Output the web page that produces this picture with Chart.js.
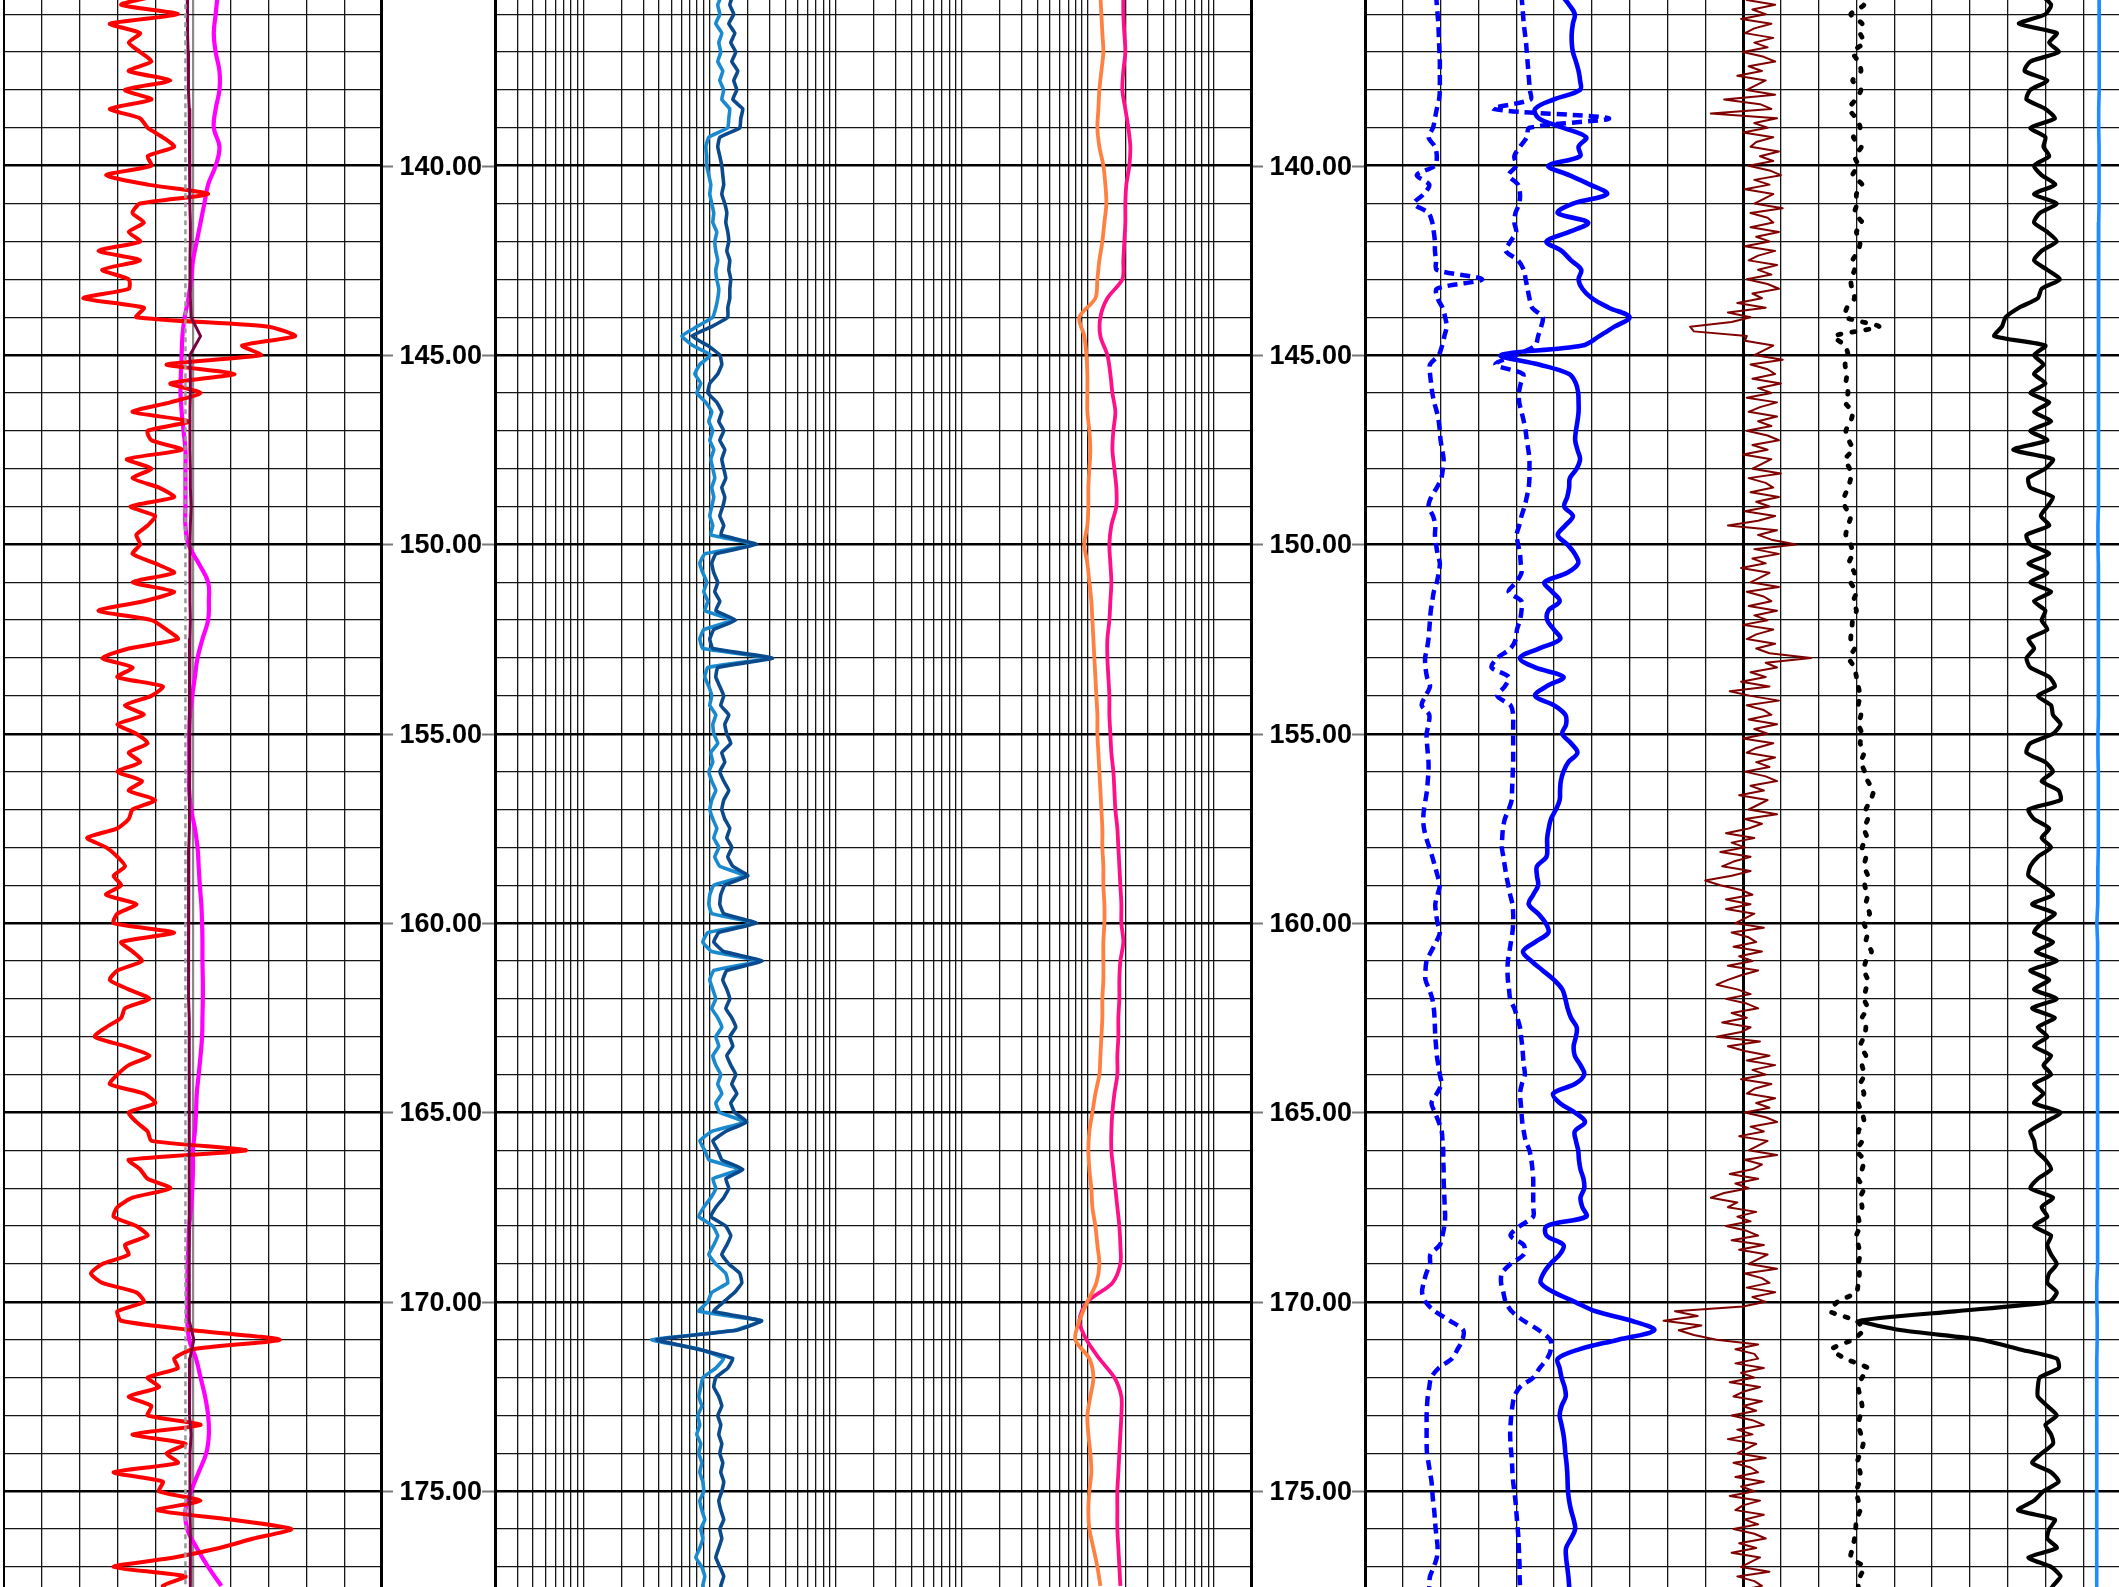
<!DOCTYPE html>
<html lang="en">
<head>
  <meta charset="UTF-8">
  <title>Well log</title>
  <script src="https://cdn.jsdelivr.net/npm/chart.js"></script>
  <style>
    html, body { margin: 0; padding: 0; background: #fff; }
    body { width: 2119px; height: 1587px; overflow: hidden; position: relative; }
    canvas { position: absolute; top: 0; }
    .edge { position: absolute; top: 0; height: 1587px; background: #000; }
  </style>
</head>
<body>
  <canvas id="track1" width="378" height="1587" style="left:4px"></canvas>
  <canvas id="depth1" width="113" height="1587" style="left:382px"></canvas>
  <canvas id="track2" width="757" height="1587" style="left:495px"></canvas>
  <canvas id="depth2" width="113" height="1587" style="left:1252px"></canvas>
  <canvas id="track3" width="756" height="1587" style="left:1365px"></canvas>
  <div class="edge" style="left:3px;width:2px"></div>
  <div class="edge" style="left:380px;width:3px"></div>
  <div class="edge" style="left:494px;width:3px"></div>
  <div class="edge" style="left:1250px;width:3px"></div>
  <div class="edge" style="left:1364px;width:3px"></div>

  <script>
    // depth window and labels
    const DEPTH_TOP = 135.625;
    const DEPTH_BOTTOM = 177.53;
    const SAMPLE_START = 135.5;
    const depthLabels = [140, 145, 150, 155, 160, 165, 170, 175];

    // ---- track 1 (linear, 10 divisions), quarter/half step samples from 135.5
    const redCurve = [
      4.1, 3.1,
      4.6, 2.8, 3.6, 3.3,
      3.6, 3.9, 3.3, 4.4,
      3.2, 3.9, 2.8, 3.6,
      3.8, 4.2, 4.5, 3.8,
      3.9, 2.7, 3.8, 5.4,
      3.6, 3.4, 3.7, 3.3,
      3.6, 2.5, 3.6, 2.6,
      3.3, 3.3, 2.1, 3.7,
      3.5, 7.0, 7.7, 6.3,
      6.8, 4.3, 6.1, 4.4,
      5.2, 4.4, 3.4, 4.9,
      3.8, 3.9, 4.7, 3.25,
      3.9, 3.4, 4.1, 4.5,
      3.35, 4.0, 3.8, 3.5,
      3.6, 3.4, 4.0, 4.5,
      3.4, 4.5, 3.7, 2.5,
      3.9, 4.3, 4.6, 3.3,
      2.6, 3.4, 3.0, 4.2,
      3.9, 3.2, 3.7, 3.0,
      3.5, 3.8, 3.3, 3.6,
      3.0, 3.65, 3.3, 4.0,
      3.4, 3.3, 3.0, 2.2,
      2.7, 3.0, 3.2, 2.9,
      3.1, 2.7, 3.5, 3.0,
      2.9, 4.5, 3.1, 3.4,
      3.65, 3.0, 2.8, 3.3,
      3.85, 3.2, 3.1, 2.7,
      2.4, 3.2, 3.85, 3.3,
      3.0, 2.8, 3.7, 4.0,
      3.3, 3.5, 3.8, 3.9,
      6.4, 3.3, 3.6, 3.8,
      4.4, 3.4, 3.0, 2.9,
      3.5, 3.8, 3.2, 3.3,
      2.6, 2.3, 2.6, 3.5,
      3.7, 3.0, 3.1, 5.0,
      7.3, 5.0, 4.5, 4.6,
      3.8, 4.1, 3.3, 3.9,
      3.8, 5.2, 3.4, 4.8,
      4.3, 4.6, 2.9, 4.2,
      4.1, 5.2, 4.05, 6.0,
      7.6, 6.6, 5.7, 4.5,
      2.9, 4.8, 4.2, 4.5
    ];
    const magentaCurve = [
      5.65,
      5.6, 5.55, 5.6, 5.7, 5.7, 5.6, 5.55, 5.7, 5.6, 5.4,
      5.3, 5.2, 5.1, 5.0, 4.95, 4.88, 4.78, 4.72, 4.7, 4.68,
      4.67, 4.7, 4.75, 4.8, 4.8, 4.8, 4.8, 4.8, 4.88, 5.15,
      5.4, 5.42, 5.4, 5.25, 5.12, 5.05, 4.98, 4.92, 4.9, 4.9,
      4.9, 4.9, 4.95, 5.05, 5.12, 5.15, 5.18, 5.22, 5.24, 5.25,
      5.25, 5.26, 5.26, 5.25, 5.24, 5.2, 5.15, 5.1, 5.08, 5.05,
      5.0, 5.0, 4.98, 4.95, 4.9, 4.88, 4.86, 4.85, 4.85, 4.85,
      4.9, 5.08, 5.2, 5.32, 5.4, 5.42, 5.35, 5.15, 4.95, 4.8,
      4.85, 5.1, 5.4, 5.75
    ];
    const maroonCurve = [
      4.85,
      4.85, 4.86, 4.87, 4.88, 4.88, 4.9, 4.9, 4.92, 4.92, 4.92,
      4.92, 4.93, 4.93, 4.92, 4.92, 4.93, 4.95, 5.2, 4.92, 4.93,
      4.93, 4.92, 4.92, 4.92, 4.93, 4.93, 4.95, 4.93, 4.92, 4.92,
      4.92, 4.92, 4.93, 4.92, 4.92, 4.91, 4.91, 4.91, 4.9, 4.9,
      4.9, 4.9, 4.9, 4.9, 4.89, 4.88, 4.88, 4.88, 4.88, 4.88,
      4.88, 4.89, 4.89, 4.9, 4.9, 4.9, 4.9, 4.9, 4.9, 4.9,
      4.9, 4.9, 4.9, 4.9, 4.9, 4.9, 4.9, 4.9, 4.9, 4.92,
      5.02, 4.92, 4.9, 4.9, 4.92, 4.95, 4.92, 4.92, 4.92, 4.92,
      4.93, 4.93, 4.93, 4.93
    ];
    const grayBaseline = [4.8, 4.8];
    const grayBaselineDepth = [135.5, 177.75];

    // ---- track 2 (logarithmic 0.2 - 200000)
    const lightBlueCurve = [
      12.55, 11.66,
      12.1, 11.25, 12.55, 11.88,
      12.32, 11.66, 12.78, 12.1,
      13.0, 12.55, 14.5, 14.26,
      14.0, 9.9, 9.37, 9.54,
      9.54, 9.9, 10.27, 10.08,
      10.45, 10.84, 10.65, 11.45,
      11.04, 11.25, 11.66, 11.25,
      11.45, 11.88, 11.66, 11.25,
      10.65, 7.95, 6.05, 7.39,
      10.27, 8.4, 7.67, 8.55,
      7.95, 9.37, 10.45, 9.9,
      10.65, 10.08, 10.84, 10.27,
      10.65, 11.04, 10.45, 10.84,
      10.45, 10.08, 10.65, 10.27,
      22.8, 9.2, 8.4, 8.87,
      9.54, 9.03, 9.72, 9.2,
      15.3, 9.03, 8.4, 8.87,
      30.0, 9.72, 9.2, 9.9,
      10.45, 10.08, 11.25, 10.65,
      10.84, 11.66, 10.27, 10.65,
      9.9, 10.45, 11.25, 10.45,
      10.08, 10.65, 11.45, 10.84,
      11.88, 11.04, 12.1, 19.1,
      10.84, 10.08, 9.9, 10.45,
      22.8, 9.72, 8.87, 10.45,
      25.0, 10.84, 10.08, 10.65,
      11.25, 10.45, 11.66, 12.55,
      11.25, 11.88, 10.65, 11.25,
      12.32, 11.66, 12.55, 11.25,
      12.1, 19.1, 10.45, 8.4,
      9.2, 9.9, 17.4, 10.65,
      11.25, 10.27, 9.03, 8.25,
      10.65, 11.66, 10.84, 9.9,
      11.25, 13.5, 14.0, 10.45,
      9.72, 8.25, 25.9, 15.9,
      3.5, 8.4, 13.0, 11.25,
      8.87, 8.55, 8.25, 8.71,
      8.1, 8.4, 7.95, 8.55,
      8.25, 8.71, 8.4, 8.87,
      9.03, 8.4, 8.71, 9.2,
      8.55, 8.87, 8.4, 7.81,
      8.71, 9.2, 8.87, 9.37
    ];
    const darkBlueCurve = [
      15.34, 14.52,
      15.62, 14.26, 15.91, 14.79,
      16.2, 15.06, 16.8, 15.62,
      16.5, 15.34, 18.41, 17.75,
      17.43, 12.1, 11.66, 12.1,
      12.55, 12.78, 13.0, 12.55,
      13.25, 13.75, 13.5, 14.0,
      14.26, 13.75, 14.52, 14.26,
      14.79, 14.52, 14.52, 14.0,
      14.0, 10.45, 7.26, 9.72,
      12.1, 12.55, 11.66, 10.08,
      9.72, 11.45, 12.55, 11.88,
      13.0, 12.1, 13.25, 12.55,
      13.0, 13.5, 12.55, 13.25,
      12.78, 12.1, 13.0, 12.32,
      23.7, 11.25, 10.45, 10.84,
      11.66, 11.04, 12.1, 11.25,
      16.2, 10.84, 10.08, 10.65,
      31.7, 11.66, 11.25, 12.1,
      13.0, 12.32, 14.26, 13.25,
      13.75, 14.79, 12.55, 13.25,
      12.1, 13.0, 14.26, 13.0,
      12.55, 13.25, 14.52, 13.75,
      15.06, 14.0, 15.34, 20.2,
      13.25, 12.32, 12.1, 13.0,
      23.7, 11.88, 10.84, 13.0,
      26.4, 13.75, 12.78, 13.75,
      14.52, 13.5, 15.06, 16.2,
      14.52, 15.34, 13.75, 14.79,
      16.2, 15.06, 16.5, 14.79,
      15.91, 19.8, 13.5, 10.65,
      11.66, 12.55, 18.41, 13.5,
      14.26, 13.0, 11.25, 10.27,
      13.5, 14.79, 13.75, 12.55,
      14.26, 17.43, 18.08, 15.91,
      13.0, 10.84, 25.9, 16.5,
      3.84, 8.1, 15.34, 14.0,
      11.25, 10.84, 11.88, 12.55,
      11.66, 12.32, 11.88, 12.55,
      12.1, 12.78, 12.32, 13.0,
      12.55, 11.88, 12.32, 13.0,
      12.1, 12.55, 11.88, 11.25,
      12.1, 13.0, 12.32, 13.0
    ];
    const orangeCurve = [
      12570,
      12800, 13030, 13270, 12800, 12340, 12120, 11900, 12340, 13270, 13770,
      14020, 13520, 13030, 12340, 11900, 11470, 8570, 9380, 9740, 9910,
      9910, 9910, 10280, 10470, 10280, 10090, 10090, 9910, 9380, 9910,
      10280, 10660, 10860, 11060, 11260, 11470, 11680, 11900, 11900, 12120,
      12340, 12570, 12800, 13030, 13030, 13270, 13270, 13520, 13520, 13270,
      13270, 13270, 13030, 13030, 12800, 12570, 12340, 11470, 10860, 10280,
      10090, 10280, 10660, 10860, 11470, 11900, 12340, 11680, 9910, 8570,
      7960, 10280, 11060, 10470, 9910, 10090, 10470, 10660, 10280, 10090,
      10280, 11060, 11900, 12570
    ];
    const pinkCurve = [
      19110,
      19110, 19460, 19820, 19110, 18770, 19820, 20940, 21710, 21320, 20190,
      19820, 19820, 19460, 19110, 18770, 14280, 12570, 12570, 14280, 15080,
      15650, 16520, 15930, 15650, 16230, 16820, 16820, 15360, 14810, 15080,
      15360, 15080, 14810, 14280, 14280, 14540, 14810, 14810, 15080, 15360,
      15930, 16230, 16520, 17130, 17450, 17770, 18100, 18430, 18430, 19110,
      18100, 17770, 17770, 17450, 17450, 17130, 17130, 16230, 15650, 15360,
      15360, 15930, 16520, 17130, 17770, 18100, 18100, 15650, 9910, 8570,
      9740, 12340, 16230, 18430, 18430, 18100, 17770, 17450, 17130, 17130,
      17130, 17450, 17770, 18100
    ];

    // ---- track 3 (linear, 20 divisions)
    const blueDashLeft = [
      1.88, 1.9,
      1.92, 1.94, 1.95, 1.96,
      1.97, 1.98, 1.98, 1.98,
      1.98, 1.96, 1.9, 1.85,
      1.8, 1.68, 1.85, 1.9,
      1.85, 1.37, 1.7, 1.55,
      1.3, 1.68, 1.78, 1.82,
      1.85, 1.85, 1.88, 1.9,
      3.1, 1.9, 1.92, 2.05,
      2.12, 2.16, 2.1, 2.04,
      1.95, 1.72, 1.72, 1.75,
      1.78, 1.83, 1.9, 1.95,
      1.98, 2.0, 2.04, 2.08,
      2.06, 2.02, 1.9, 1.75,
      1.68, 1.8, 1.86, 1.85,
      1.88, 1.92, 1.98, 1.95,
      1.9, 1.82, 1.78, 1.74,
      1.72, 1.7, 1.68, 1.64,
      1.59, 1.6, 1.64, 1.72,
      1.6, 1.5, 1.7, 1.68,
      1.63, 1.64, 1.66, 1.68,
      1.68, 1.66, 1.64, 1.6,
      1.56, 1.54, 1.56, 1.62,
      1.7, 1.78, 1.85, 1.92,
      1.98, 1.92, 1.86, 1.88,
      1.92, 1.98, 1.88, 1.75,
      1.63, 1.6, 1.6, 1.7,
      1.78, 1.82, 1.84, 1.85,
      1.86, 1.88, 1.9, 1.94,
      1.98, 2.02, 1.9, 1.76,
      1.85, 1.95, 2.03, 2.05,
      2.07, 2.07, 2.08, 2.08,
      2.09, 2.1, 2.11, 2.12,
      2.1, 2.05, 1.98, 1.73,
      1.72, 1.62, 1.55, 1.51,
      1.6, 1.85, 2.25, 2.6,
      2.58, 2.45, 2.3, 1.95,
      1.75, 1.7, 1.66, 1.64,
      1.63, 1.63, 1.63, 1.63,
      1.64, 1.68, 1.72, 1.76,
      1.78, 1.8, 1.83, 1.85,
      1.87, 1.9, 1.92, 1.9,
      1.82, 1.72, 1.7, 1.7
    ];
    const blueDashMid = [
      4.14, 4.16,
      4.18, 4.2, 4.23, 4.26,
      4.28, 4.3, 4.32, 4.34,
      4.36, 4.38, 3.4, 6.45,
      4.35, 4.28, 4.1, 3.95,
      4.0, 3.8, 4.05, 4.1,
      4.08, 3.98, 3.95, 4.0,
      3.85, 3.72, 4.05, 4.2,
      4.25, 4.3, 4.35, 4.42,
      4.7, 4.66, 4.58, 4.5,
      4.0, 3.45, 4.18, 4.12,
      4.07, 4.08, 4.14, 4.2,
      4.25, 4.28, 4.32, 4.35,
      4.35, 4.35, 4.33, 4.28,
      4.22, 4.14, 4.08, 4.01,
      4.05, 4.1, 4.12, 4.14,
      4.0, 3.8, 4.14, 4.14,
      4.1, 4.02, 3.99, 3.85,
      3.5, 3.35, 3.8, 3.7,
      3.5, 3.85, 3.92, 3.92,
      3.92, 3.92, 3.92, 3.92,
      3.91, 3.9, 3.89, 3.88,
      3.8, 3.7, 3.65, 3.63,
      3.62, 3.66, 3.7, 3.74,
      3.79, 3.84, 3.9, 3.92,
      3.92, 3.9, 3.86, 3.82,
      3.78, 3.77, 3.78, 3.81,
      3.84, 3.95, 4.03, 4.1,
      4.13, 4.16, 4.18, 4.2,
      4.23, 4.15, 4.1, 4.12,
      4.14, 4.16, 4.2, 4.25,
      4.35, 4.4, 4.43, 4.45,
      4.45, 4.45, 4.45, 4.45,
      4.1, 3.85, 4.2, 4.2,
      3.85, 3.62, 3.6, 3.66,
      3.72, 3.88, 4.2, 4.6,
      4.9, 4.92, 4.82, 4.62,
      4.45, 4.1, 3.95, 3.9,
      3.87, 3.85, 3.84, 3.85,
      3.87, 3.89, 3.9, 3.92,
      3.95, 3.98, 4.0, 4.02,
      4.04, 4.06, 4.07, 4.08,
      4.09, 4.09, 4.1, 4.1
    ];
    const blueSolid = [
      5.2, 5.4,
      5.55, 5.5, 5.47, 5.47,
      5.5, 5.58, 5.65, 5.69,
      5.69, 5.0, 4.5, 4.6,
      5.25, 5.85, 5.65, 5.69,
      4.85, 5.4, 5.95, 6.4,
      5.5, 5.1, 5.9, 5.4,
      4.8, 5.2, 5.45, 5.72,
      5.65, 5.75, 6.0, 6.45,
      7.0, 6.6, 6.2, 5.75,
      3.6, 4.6, 5.4, 5.58,
      5.64, 5.65, 5.65, 5.62,
      5.58, 5.56, 5.62, 5.69,
      5.6, 5.42, 5.4, 5.35,
      5.27, 5.5, 5.3, 5.1,
      5.35, 5.55, 5.64, 5.35,
      4.75, 4.95, 5.15, 4.85,
      4.82, 5.0, 5.16, 4.6,
      4.1, 4.5, 5.25, 4.8,
      4.5, 5.0, 5.3, 5.32,
      5.22, 5.45, 5.62, 5.38,
      5.25, 5.18, 5.16, 5.15,
      5.05, 4.92, 4.86, 4.82,
      4.82, 4.8, 4.55, 4.55,
      4.58, 4.45, 4.33, 4.58,
      4.78, 4.85, 4.5, 4.18,
      4.4, 4.7, 5.0, 5.22,
      5.3, 5.36, 5.45, 5.6,
      5.58, 5.52, 5.55, 5.7,
      5.8, 5.55, 4.98, 5.15,
      5.55, 5.82, 5.55, 5.58,
      5.64, 5.66, 5.7, 5.78,
      5.8, 5.7, 5.75, 5.85,
      4.81, 4.8, 5.25, 5.15,
      4.9, 4.72, 4.65, 5.0,
      5.55, 6.1, 7.05, 7.65,
      6.7, 5.68, 5.1, 5.15,
      5.2, 5.28, 5.31, 5.2,
      5.15, 5.2, 5.25, 5.28,
      5.3, 5.33, 5.35, 5.36,
      5.37, 5.4, 5.45, 5.52,
      5.56, 5.45, 5.32, 5.32,
      5.35, 5.38, 5.4, 5.42
    ];
    // eighth-step samples from 135.5
    const maroonTrace = [
      10.7, 10.1, 10.85, 10.25, 10.6, 9.95, 10.75, 10.3,
      10.05, 10.8, 10.3, 10.65, 10.0, 10.55, 10.85, 10.15,
      10.5, 9.85, 10.6, 10.35, 10.1, 10.85, 9.5, 10.45,
      10.75, 9.15, 10.9, 10.3, 10.65, 10.0, 10.8, 10.35,
      10.2, 10.95, 10.45, 10.8, 10.15, 10.7, 11.0, 10.3,
      10.7, 10.05, 10.8, 10.55, 10.3, 11.05, 10.2, 10.65,
      10.8, 10.2, 10.95, 10.35, 10.7, 10.05, 10.85, 10.4,
      10.15, 10.9, 10.4, 10.75, 10.1, 10.65, 10.95, 10.25,
      10.5, 9.85, 10.6, 9.6, 10.2, 9.7, 8.6, 8.7,
      10.1, 10.05, 10.8, 10.55, 10.3, 11.05, 10.2, 10.65,
      10.85, 10.25, 11.0, 10.4, 10.75, 10.1, 10.9, 10.45,
      10.15, 10.9, 10.4, 10.75, 10.1, 10.65, 10.95, 10.25,
      10.65, 10.0, 10.75, 10.5, 10.25, 11.0, 10.15, 10.6,
      10.8, 10.2, 10.95, 10.35, 10.7, 10.05, 10.85, 10.4,
      9.6, 10.9, 10.4, 10.75, 11.4, 10.3, 10.95, 10.25,
      10.6, 9.95, 10.7, 10.45, 10.2, 10.95, 10.1, 10.55,
      10.75, 10.15, 10.9, 10.3, 10.65, 10.0, 10.8, 10.35,
      10.1, 10.85, 10.35, 10.7, 11.8, 10.6, 10.9, 10.2,
      10.6, 9.95, 10.7, 9.65, 10.2, 10.95, 10.1, 10.55,
      10.75, 10.15, 10.9, 10.3, 10.65, 10.0, 10.8, 10.35,
      10.1, 10.85, 10.35, 10.7, 10.05, 10.6, 10.9, 10.2,
      10.55, 9.9, 10.65, 10.4, 10.15, 10.9, 10.05, 10.5,
      10.15, 9.55, 10.3, 9.7, 10.05, 9.4, 10.2, 9.75,
      9.45, 10.2, 9.7, 9.0, 9.4, 9.95, 10.25, 9.55,
      10.2, 9.55, 10.3, 10.05, 9.8, 10.55, 9.7, 10.15,
      10.35, 9.75, 10.5, 9.9, 10.25, 9.6, 10.4, 9.95,
      9.6, 9.3, 9.85, 10.2, 9.55, 10.1, 10.4, 9.7,
      10.1, 9.45, 10.2, 9.95, 9.3, 10.45, 9.6, 10.05,
      10.7, 10.1, 10.85, 10.25, 10.6, 9.95, 10.75, 10.3,
      10.1, 10.85, 10.35, 10.7, 10.05, 10.6, 10.9, 10.2,
      10.55, 9.9, 10.65, 10.4, 10.15, 10.9, 10.05, 10.5,
      10.25, 9.65, 10.4, 9.8, 10.15, 9.5, 9.15, 9.85,
      9.6, 10.35, 9.85, 10.2, 9.55, 10.1, 10.4, 9.7,
      10.55, 9.9, 10.65, 10.4, 10.15, 10.9, 10.05, 10.5,
      10.7, 10.1, 10.85, 10.25, 10.6, 10.0, 8.2, 8.8,
      7.9, 8.9, 8.3, 8.7, 9.3, 10.4, 9.8, 10.3,
      10.4, 9.8, 10.55, 9.95, 10.3, 9.65, 10.45, 10.0,
      9.75, 10.5, 10.0, 10.35, 9.7, 10.25, 10.55, 9.85,
      10.25, 9.6, 10.35, 10.1, 9.85, 10.6, 9.75, 10.2,
      10.4, 9.8, 10.55, 9.95, 10.3, 9.65, 10.45, 10.0,
      9.8, 10.55, 10.05, 10.4, 9.75, 10.3, 10.6, 9.9,
      10.35, 9.7, 10.45, 10.2, 9.95, 10.7, 9.85, 10.3,
      10.5, 9.9, 10.65
    ];
    const blackDashed = [
      12.95, 13.2,
      12.85, 13.15, 13.1, 13.2,
      12.9, 13.05, 13.12, 12.9,
      13.12, 12.98, 12.8, 13.0,
      13.1, 12.92, 13.13, 12.95,
      13.05, 12.9, 13.15, 13.0,
      13.02, 12.95, 13.15, 13.0,
      13.1, 13.05, 12.9, 12.95,
      12.85, 12.88, 12.95, 12.75,
      12.7, 13.6, 12.4, 12.7,
      12.78, 12.7, 12.75, 12.72,
      12.78, 12.7, 12.9, 12.85,
      12.72, 12.8, 12.9, 12.7,
      12.82, 12.85, 12.78, 12.68,
      12.7, 12.85, 12.78, 12.72,
      12.85, 12.9, 12.8, 12.95,
      12.85, 13.0, 12.92, 13.0,
      12.9, 12.88, 12.85, 12.95,
      12.8, 12.95, 13.0, 13.05,
      13.1, 13.05, 13.12, 13.05,
      13.15, 13.1, 13.2, 13.12,
      13.22, 13.3, 13.45, 13.38,
      13.25, 13.3, 13.2, 13.28,
      13.15, 13.25, 13.2, 13.3,
      13.22, 13.3, 13.25, 13.35,
      13.2, 13.3, 13.25, 13.4,
      13.25, 13.2, 13.3, 13.25,
      13.2, 13.3, 13.15, 13.25,
      13.2, 13.1, 13.25, 13.15,
      13.22, 13.1, 13.2, 13.05,
      13.15, 13.2, 13.05, 13.15,
      13.0, 13.2, 13.15, 13.05,
      13.2, 13.1, 13.15, 13.05,
      13.1, 13.0, 13.05, 13.1,
      13.05, 13.08, 13.05, 13.0,
      12.5, 12.3, 13.0, 13.18,
      12.9, 12.35, 12.7, 13.3,
      13.15, 13.05, 13.1, 13.15,
      13.1, 13.05, 13.12, 13.18,
      13.1, 13.02, 13.1, 13.08,
      13.0, 13.05, 13.1, 13.0,
      12.98, 12.95, 12.9, 12.85,
      13.2, 13.1, 13.05, 13.1
    ];
    const blackSolid = [
      17.9, 18.15,
      18.0, 17.3, 18.3, 18.1,
      18.35, 17.6, 17.45, 18.05,
      17.6, 17.5, 18.0, 18.25,
      17.6, 18.0, 17.95, 18.1,
      17.7, 17.9, 18.26, 17.7,
      18.3, 17.85, 17.7, 18.05,
      18.3, 17.9, 17.7, 18.05,
      18.38, 17.9, 17.8, 17.3,
      16.95, 16.85, 16.65, 18.0,
      17.7, 17.95, 17.7, 18.0,
      17.6, 18.1, 17.7, 18.15,
      17.6, 18.05, 17.15, 18.2,
      18.0, 17.55, 17.6, 18.2,
      18.05, 17.88, 18.1, 17.5,
      17.6, 18.1, 17.55, 18.05,
      17.6, 18.15, 17.7, 18.0,
      17.9, 18.05, 17.55, 17.7,
      17.5, 17.6, 18.1, 18.25,
      17.8, 18.15, 18.2, 18.4,
      18.2, 17.6, 17.5, 18.0,
      18.2, 17.9, 18.35, 18.4,
      17.55, 17.7, 18.1, 17.9,
      18.15, 17.8, 17.6, 17.55,
      17.9, 18.2, 17.65, 18.25,
      17.9, 17.7, 18.2, 17.75,
      18.3, 17.6, 18.1, 17.7,
      18.3, 17.65, 18.25, 17.8,
      18.05, 17.7, 18.15, 17.95,
      18.15, 17.7, 17.95, 17.7,
      18.4, 18.0, 17.6, 17.7,
      17.75, 18.0, 18.15, 17.8,
      17.6, 18.2, 17.9, 18.05,
      17.7, 18.15, 18.05, 18.15,
      18.3, 18.1, 18.05, 18.3,
      18.1, 15.6, 13.1, 14.2,
      16.3, 17.3, 18.3, 18.35,
      17.85, 17.8, 17.8, 18.05,
      18.3, 18.0, 18.15, 18.2,
      17.9, 17.65, 18.15, 18.35,
      17.95, 17.7, 17.28, 18.25,
      18.1, 18.05, 18.3, 17.55,
      18.15, 18.4, 18.2, 18.05
    ];
    const skyBlueLine = [
      19.42,
      19.42, 19.43, 19.43, 19.42, 19.42, 19.41, 19.41, 19.42, 19.42, 19.42,
      19.42, 19.41, 19.41, 19.41, 19.4, 19.4, 19.4, 19.4, 19.4, 19.41,
      19.41, 19.41, 19.4, 19.4, 19.4, 19.4, 19.4, 19.39, 19.39, 19.4,
      19.4, 19.4, 19.4, 19.41, 19.41, 19.4, 19.4, 19.4, 19.39, 19.39,
      19.4, 19.4, 19.4, 19.4, 19.4, 19.39, 19.39, 19.38, 19.36, 19.38,
      19.39, 19.39, 19.39, 19.39, 19.38, 19.38, 19.38, 19.38, 19.38, 19.38,
      19.38, 19.38, 19.38, 19.38, 19.38, 19.37, 19.37, 19.36, 19.36, 19.37,
      19.37, 19.36, 19.36, 19.36, 19.36, 19.36, 19.36, 19.36, 19.36, 19.36,
      19.36, 19.35, 19.35, 19.35
    ];

    // grid positions
    const depthGrid = [];
    for (let d = 136; d <= 177; d++) depthGrid.push(d);
    const grid10 = [0, 1, 2, 3, 4, 5, 6, 7, 8, 9, 10];
    const grid20 = [];
    for (let i = 0; i <= 20; i++) grid20.push(i);
    const logDecades = [0.1, 1, 10, 100, 1000, 10000, 100000];
    const logMultipliers = [1, 2, 3, 4, 5, 6, 7, 8, 9];
    const logGrid = [];
    logDecades.forEach(dec => logMultipliers.forEach(m => {
      const v = +(dec * m).toPrecision(3);
      if (v >= 0.2 && v <= 200000) logGrid.push(v);
    }));

    const GRID_COLOR = '#161616';
    const GRID_WIDTH = 1.3;

    function curve(values, step) {
      return values.map((v, i) => ({ x: v, y: SAMPLE_START + i * step }));
    }

    function line(data, color, width, opts) {
      opts = opts || {};
      return {
        data: data,
        showLine: true,
        borderColor: color,
        backgroundColor: color,
        borderWidth: width,
        borderDash: opts.dash || [],
        borderCapStyle: opts.cap || 'butt',
        borderJoinStyle: 'round',
        pointRadius: 0,
        tension: opts.tension || 0,
        fill: false
      };
    }

    const baseOptions = {
      animation: false,
      responsive: false,
      maintainAspectRatio: false,
      devicePixelRatio: 1,
      events: [],
      layout: { padding: 0 },
      plugins: { legend: { display: false }, tooltip: { enabled: false } }
    };

    function depthScale() {
      return {
        type: 'linear',
        min: DEPTH_TOP,
        max: DEPTH_BOTTOM,
        reverse: true,
        bounds: 'data',
        afterBuildTicks: s => { s.ticks = depthGrid.map(v => ({ value: v })); },
        ticks: { display: false },
        border: { display: false },
        grid: {
          drawTicks: false,
          color: c => (c.tick && c.tick.value % 5 === 0) ? '#000' : GRID_COLOR,
          lineWidth: c => (c.tick && c.tick.value % 5 === 0) ? 2.4 : GRID_WIDTH
        }
      };
    }

    function linearTrackScale(max, gridValues, heavyValue, heavyColor, heavyWidth) {
      return {
        type: 'linear',
        min: 0,
        max: max,
        bounds: 'data',
        afterBuildTicks: s => { s.ticks = gridValues.map(v => ({ value: v })); },
        ticks: { display: false },
        border: { display: false },
        grid: {
          drawTicks: false,
          color: c => (c.tick && c.tick.value === heavyValue) ? heavyColor : GRID_COLOR,
          lineWidth: c => (c.tick && c.tick.value === heavyValue) ? heavyWidth : GRID_WIDTH
        }
      };
    }

    function trackChart(id, xScale, datasets) {
      return new Chart(document.getElementById(id), {
        type: 'scatter',
        data: { datasets: datasets },
        options: Object.assign({}, baseOptions, { scales: { x: xScale, y: depthScale() } })
      });
    }

    // track 1
    trackChart('track1', linearTrackScale(10, grid10, 5, '#8a8a8a', 2.2), [
      line(grayBaseline.map((v, i) => ({ x: v, y: grayBaselineDepth[i] })), '#9a9a9a', 2.5, { dash: [5, 4] }),
      line(curve(maroonCurve, 0.5), '#7a0040', 3),
      line(curve(redCurve, 0.25), '#ff0000', 4, { tension: 0.2 }),
      line(curve(magentaCurve, 0.5), '#ff00ff', 4.2, { tension: 0.4 })
    ]);

    // track 2
    trackChart('track2', {
      type: 'logarithmic',
      min: 0.2,
      max: 200000,
      bounds: 'data',
      afterBuildTicks: s => { s.ticks = logGrid.map(v => ({ value: v })); },
      ticks: { display: false },
      border: { display: false },
      grid: { drawTicks: false, color: GRID_COLOR, lineWidth: GRID_WIDTH }
    }, [
      line(curve(orangeCurve, 0.5), '#ff8040', 3.8, { tension: 0.3 }),
      line(curve(pinkCurve, 0.5), '#ff1088', 3.8, { tension: 0.3 }),
      line(curve(darkBlueCurve, 0.25), '#0b4a8c', 3.6, { tension: 0.1 }),
      line(curve(lightBlueCurve, 0.25), '#1a8ad0', 3.6, { tension: 0.1 })
    ]);

    // track 3
    trackChart('track3', linearTrackScale(20, grid20, 10, '#000', 3), [
      line(curve(maroonTrace, 0.125), '#800000', 2),
      line(curve(blueDashLeft, 0.25), '#0000ff', 4.5, { dash: [10, 6], tension: 0.3 }),
      line(curve(blueDashMid, 0.25), '#0000ff', 4.5, { dash: [10, 6], tension: 0.3 }),
      line(curve(blueSolid, 0.25), '#0000ff', 4.6, { tension: 0.35 }),
      line(curve(blackDashed, 0.25), '#000000', 4.8, { dash: [3, 11], cap: 'round', tension: 0.2 }),
      line(curve(blackSolid, 0.25), '#000000', 4.2, { tension: 0.2 }),
      line(curve(skyBlueLine, 0.5), '#1e8cff', 3.6)
    ]);

    // depth columns
    const depthLabelPlugin = {
      id: 'depthLabels',
      afterDraw(chart) {
        const { ctx, chartArea, scales } = chart;
        const y = scales.y;
        ctx.save();
        ctx.font = 'bold 27px "Liberation Sans", Arial, sans-serif';
        ctx.textAlign = 'right';
        ctx.textBaseline = 'middle';
        depthLabels.forEach(d => {
          const py = Math.round(y.getPixelForValue(d)) + 0.5;
          ctx.strokeStyle = '#7a7a7a';
          ctx.lineWidth = 2;
          ctx.beginPath();
          ctx.moveTo(chartArea.left, py);
          ctx.lineTo(chartArea.left + 11, py);
          ctx.moveTo(chartArea.right - 13, py);
          ctx.lineTo(chartArea.right, py);
          ctx.stroke();
          ctx.fillStyle = '#000';
          ctx.fillText(d.toFixed(2), chartArea.right - 13, py + 1);
        });
        ctx.restore();
      }
    };

    ['depth1', 'depth2'].forEach(id => {
      new Chart(document.getElementById(id), {
        type: 'scatter',
        data: { datasets: [] },
        options: Object.assign({}, baseOptions, {
          scales: {
            x: { display: false, min: 0, max: 1 },
            y: { display: false, min: DEPTH_TOP, max: DEPTH_BOTTOM, reverse: true, bounds: 'data' }
          }
        }),
        plugins: [depthLabelPlugin]
      });
    });
  </script>
</body>
</html>
